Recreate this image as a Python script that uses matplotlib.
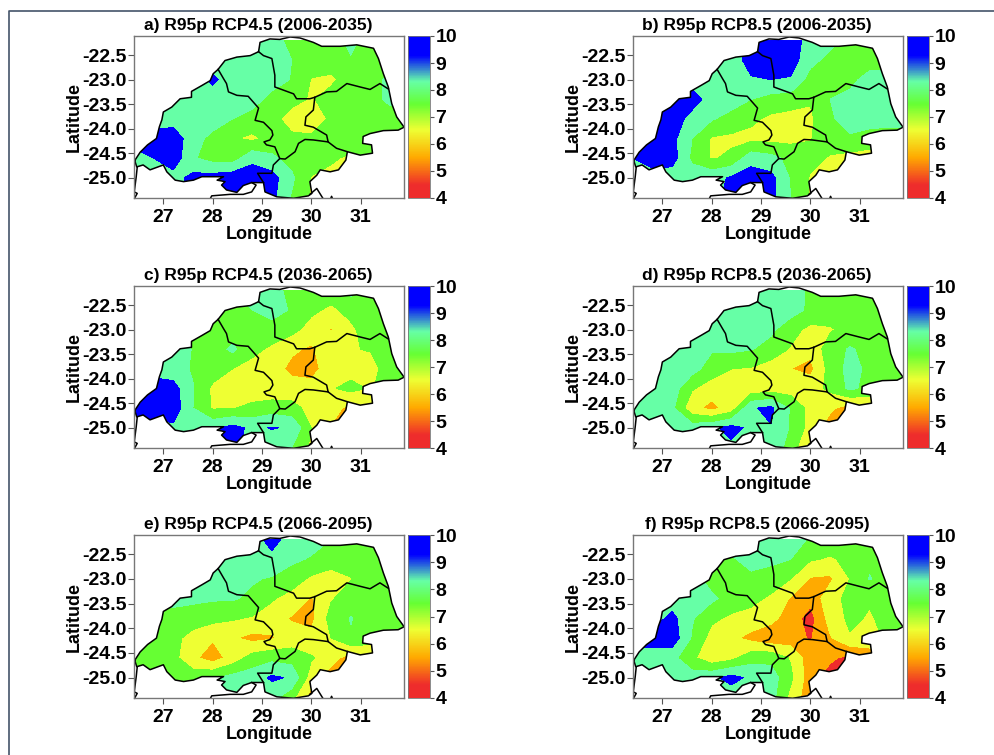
import matplotlib
matplotlib.use('Agg')
import matplotlib.pyplot as plt
import numpy as np
from matplotlib.colors import LinearSegmentedColormap, Normalize
from matplotlib.cm import ScalarMappable
from matplotlib.lines import Line2D
from matplotlib.patches import PathPatch
from matplotlib.path import Path

plt.rcParams['font.family'] = ['Liberation Sans', 'DejaVu Sans']
plt.rcParams['font.weight'] = 'bold'
plt.rcParams['axes.unicode_minus'] = False

titles = ['a) R95p RCP4.5 (2006-2035)', 'b) R95p RCP8.5 (2006-2035)',
          'c) R95p RCP4.5 (2036-2065)', 'd) R95p RCP8.5 (2036-2065)',
          'e) R95p RCP4.5 (2066-2095)', 'f) R95p RCP8.5 (2066-2095)']

grid_lon = [26.4, 26.8, 27.2, 27.6, 28.0, 28.4, 28.8, 29.2, 29.6, 30.0, 30.4, 30.8, 31.2, 31.6, 32.0]
grid_lat = [-22.2, -22.6, -23.0, -23.4, -23.8, -24.2, -24.6, -25.0, -25.4]

r95p_a = [
    [8.5, 8.5, 8.5, 8.5, 8.5, 8.5, 8.5, 8.4, 7.7, 7.5, 7.5, 8.3, 7.5, 7.5, 7.5],
    [8.5, 8.5, 8.5, 8.5, 8.5, 8.5, 8.5, 8.5, 8.0, 7.5, 7.5, 7.9, 7.5, 7.5, 7.5],
    [8.5, 8.5, 8.5, 8.5, 9.2, 8.5, 8.5, 8.4, 7.95, 6.95, 6.8, 7.5, 7.7, 8.2, 8.2],
    [8.5, 8.5, 9.2, 8.5, 8.5, 8.5, 8.4, 7.7, 7.3, 6.9, 7.4, 7.5, 7.7, 8.2, 8.2],
    [8.5, 8.5, 8.5, 8.5, 8.5, 8.0, 7.6, 7.3, 6.6, 6.3, 7.2, 7.5, 7.5, 7.6, 7.6],
    [9.5, 9.5, 9.6, 8.4, 7.7, 7.1, 6.8, 7.3, 7.2, 7.2, 7.6, 7.6, 7.6, 7.6, 7.6],
    [8.5, 9.0, 9.6, 8.1, 7.6, 7.5, 8.7, 8.2, 7.6, 7.5, 7.15, 6.8, 7.5, 7.5, 7.5],
    [8.5, 8.5, 8.6, 9.3, 9.4, 9.6, 9.6, 9.4, 8.2, 6.95, 6.7, 6.8, 7.0, 7.0, 7.0],
    [8.5, 8.5, 8.5, 9.3, 9.4, 9.6, 9.6, 9.3, 7.9, 6.9, 6.9, 6.9, 7.0, 7.0, 7.0],
]
r95p_b = [
    [8.5, 8.5, 8.5, 8.5, 8.5, 8.5, 9.5, 9.6, 9.5, 8.6, 8.3, 7.8, 7.5, 7.5, 7.5],
    [8.5, 8.5, 8.5, 8.5, 8.5, 8.5, 9.4, 9.6, 9.5, 8.3, 7.7, 7.5, 7.5, 7.5, 7.5],
    [8.5, 8.5, 8.5, 8.5, 8.4, 8.5, 8.9, 9.0, 8.9, 7.6, 7.3, 7.7, 8.4, 8.4, 8.4],
    [9.5, 9.5, 9.5, 9.5, 8.5, 8.5, 8.0, 7.6, 7.5, 7.1, 8.0, 8.3, 8.4, 8.4, 8.4],
    [9.5, 9.5, 9.6, 8.6, 8.1, 7.6, 7.2, 6.8, 6.6, 6.8, 7.9, 8.3, 8.4, 8.3, 8.3],
    [9.5, 9.5, 9.3, 8.0, 6.9, 6.8, 6.7, 6.7, 6.7, 6.95, 7.5, 7.9, 7.6, 7.6, 7.6],
    [9.0, 9.5, 9.4, 7.8, 6.9, 7.2, 8.6, 8.3, 7.7, 7.3, 6.9, 6.6, 6.5, 6.5, 6.5],
    [8.5, 8.5, 8.5, 8.5, 8.7, 9.1, 9.5, 9.3, 7.9, 6.9, 6.6, 6.0, 6.5, 6.5, 6.5],
    [8.5, 8.5, 8.5, 8.5, 8.7, 9.3, 9.5, 9.3, 8.0, 6.9, 6.5, 6.5, 6.5, 6.5, 6.5],
]
r95p_c = [
    [8.0, 8.0, 8.0, 8.0, 8.0, 8.0, 8.4, 8.5, 7.6, 7.5, 7.5, 8.3, 7.3, 7.5, 7.5],
    [8.0, 8.0, 8.0, 8.0, 7.6, 7.5, 8.0, 8.4, 7.9, 7.2, 6.8, 7.3, 7.5, 7.5, 7.5],
    [8.0, 8.0, 8.0, 8.0, 7.5, 7.5, 7.5, 7.6, 7.3, 6.6, 5.9, 6.8, 7.5, 7.5, 7.5],
    [8.5, 8.5, 8.5, 7.95, 7.5, 8.2, 7.3, 6.8, 6.2, 5.8, 6.9, 6.95, 7.05, 7.6, 7.6],
    [8.5, 8.5, 8.4, 7.9, 7.5, 7.0, 6.6, 6.5, 5.7, 5.6, 6.6, 6.6, 6.7, 7.4, 7.5],
    [9.6, 9.6, 9.4, 8.05, 6.8, 6.6, 6.5, 6.3, 6.5, 6.4, 6.9, 7.3, 6.9, 7.5, 7.5],
    [9.5, 9.6, 9.6, 8.0, 6.9, 6.95, 7.2, 7.5, 7.3, 6.7, 6.5, 5.6, 6.0, 6.0, 6.0],
    [8.5, 8.5, 8.8, 8.6, 8.8, 9.3, 8.8, 9.05, 8.9, 7.0, 5.9, 6.0, 6.0, 6.0, 6.0],
    [8.5, 8.5, 8.5, 8.5, 8.3, 9.6, 8.3, 8.5, 8.0, 6.8, 6.5, 6.5, 6.5, 6.5, 6.5],
]
r95p_d = [
    [8.5, 8.5, 8.5, 8.5, 8.5, 8.5, 8.5, 8.5, 8.5, 7.8, 7.5, 7.5, 7.5, 7.5, 7.5],
    [8.5, 8.5, 8.5, 8.5, 8.5, 8.5, 8.5, 8.5, 8.4, 7.8, 7.5, 7.5, 7.5, 7.5, 7.5],
    [8.5, 8.5, 8.5, 8.5, 8.5, 8.5, 8.5, 8.2, 7.4, 6.7, 6.9, 7.3, 7.5, 7.5, 7.5],
    [8.5, 8.5, 8.5, 8.5, 8.1, 8.2, 8.05, 7.6, 6.9, 6.3, 7.5, 8.1, 7.7, 7.5, 7.5],
    [8.5, 8.5, 8.5, 8.4, 7.5, 7.0, 6.9, 6.5, 6.0, 5.7, 7.4, 8.3, 7.8, 7.5, 7.5],
    [8.5, 8.5, 8.5, 7.1, 6.5, 6.4, 6.3, 6.5, 6.5, 6.6, 7.2, 8.2, 7.7, 7.5, 7.5],
    [8.5, 8.5, 8.2, 6.3, 5.7, 6.4, 8.9, 9.2, 7.9, 6.6, 6.2, 5.5, 6.0, 6.0, 6.0],
    [8.5, 8.5, 8.5, 8.5, 8.8, 9.3, 8.8, 8.95, 7.9, 6.6, 5.5, 6.0, 6.0, 6.0, 6.0],
    [8.5, 8.5, 8.5, 8.5, 8.5, 8.8, 8.5, 8.5, 7.7, 5.6, 6.0, 6.0, 6.0, 6.0, 6.0],
]
r95p_e = [
    [8.5, 8.5, 8.5, 8.5, 8.5, 8.5, 8.5, 9.4, 8.5, 8.4, 8.0, 7.6, 7.5, 7.5, 7.5],
    [8.5, 8.5, 8.5, 8.5, 8.5, 8.5, 8.5, 8.7, 8.2, 7.9, 7.4, 7.5, 7.5, 7.5, 7.5],
    [8.5, 8.5, 8.5, 8.5, 8.4, 8.5, 8.1, 7.9, 7.5, 6.8, 6.6, 6.95, 7.4, 7.5, 7.5],
    [8.4, 8.4, 8.4, 8.2, 8.1, 8.1, 7.8, 7.1, 6.6, 5.9, 6.9, 7.5, 7.5, 7.5, 7.5],
    [7.6, 7.6, 7.5, 7.5, 7.3, 7.1, 6.9, 6.5, 5.9, 5.7, 7.4, 8.05, 7.5, 7.5, 7.5],
    [7.5, 7.5, 7.3, 6.6, 6.1, 6.1, 5.7, 5.9, 6.5, 6.3, 7.0, 7.9, 7.5, 7.5, 7.5],
    [7.6, 7.5, 7.3, 6.2, 5.5, 6.4, 7.4, 7.7, 7.5, 7.1, 6.4, 5.5, 6.0, 6.0, 6.0],
    [7.5, 7.5, 7.5, 7.6, 7.9, 8.3, 8.5, 9.15, 8.9, 6.4, 5.5, 6.0, 6.0, 6.0, 6.0],
    [7.5, 7.5, 7.5, 7.6, 7.9, 8.2, 8.3, 8.4, 7.3, 5.6, 6.0, 6.0, 6.0, 6.0, 6.0],
]
r95p_f = [
    [8.4, 8.4, 8.4, 8.4, 8.4, 8.4, 8.4, 8.5, 8.4, 7.9, 7.5, 7.8, 7.5, 7.5, 7.5],
    [8.4, 8.4, 8.4, 8.4, 7.6, 7.9, 8.3, 8.2, 8.0, 7.1, 6.9, 7.2, 7.8, 7.5, 7.5],
    [8.4, 8.4, 8.4, 8.4, 7.6, 7.6, 7.8, 7.6, 7.0, 5.9, 5.8, 7.0, 8.05, 7.6, 7.5],
    [8.4, 8.4, 8.4, 8.1, 8.2, 7.6, 7.3, 6.8, 5.9, 5.3, 6.6, 7.3, 7.1, 7.5, 7.5],
    [8.5, 8.5, 9.3, 8.1, 7.2, 6.8, 6.6, 6.3, 5.5, 4.6, 6.4, 7.2, 6.9, 7.3, 7.3],
    [9.5, 9.5, 9.6, 7.9, 6.6, 6.2, 5.7, 5.3, 5.4, 4.9, 5.9, 6.9, 6.5, 7.3, 7.3],
    [8.5, 8.4, 8.3, 7.2, 6.3, 6.7, 7.6, 7.7, 6.9, 5.4, 5.2, 4.7, 5.5, 5.5, 5.5],
    [8.5, 8.5, 8.5, 8.5, 8.8, 9.3, 8.8, 8.5, 7.2, 5.4, 4.5, 5.0, 5.5, 5.5, 5.5],
    [8.5, 8.5, 8.5, 8.5, 8.5, 8.5, 8.5, 8.4, 6.7, 5.3, 5.0, 5.5, 5.5, 5.5, 5.5],
]
panels = [r95p_a, r95p_b, r95p_c, r95p_d, r95p_e, r95p_f]

outer_lon = [26.42, 26.53, 26.68, 26.86, 26.92, 26.97, 27.00, 27.17, 27.34, 27.57, 27.57, 27.78, 27.95, 28.01, 28.11,
             28.25, 28.49, 28.76, 28.93, 28.96, 29.16, 29.36, 29.57, 29.77, 30.04, 30.21, 30.58, 30.92, 31.26, 31.36,
             31.46, 31.56, 31.63, 31.73, 31.88, 31.76, 31.46, 31.19, 31.05, 31.04, 31.22, 31.24, 30.99, 30.73, 30.70,
             30.55, 30.38, 30.18, 30.11, 29.97, 30.01, 29.94, 29.64, 29.30, 29.06, 29.03, 28.79, 28.62, 28.49, 28.28,
             28.18, 28.25, 28.09, 28.22, 27.95, 27.78, 27.61, 27.41, 27.24, 27.07, 27.00, 26.73, 26.59, 26.46, 26.42]
outer_lat = [-24.65, -24.48, -24.33, -24.20, -23.96, -23.82, -23.66, -23.56, -23.39, -23.36, -23.24, -23.12, -23.02, -22.88, -22.79,
             -22.61, -22.54, -22.51, -22.43, -22.24, -22.17, -22.18, -22.13, -22.15, -22.24, -22.32, -22.32, -22.29, -22.36, -22.57,
             -22.88, -23.15, -23.49, -23.76, -23.97, -24.03, -24.04, -24.10, -24.16, -24.30, -24.33, -24.50, -24.54, -24.47, -24.64,
             -24.84, -24.88, -24.84, -24.95, -25.08, -25.32, -25.37, -25.42, -25.39, -25.29, -25.10, -25.10, -25.16, -25.30, -25.25,
             -25.15, -25.08, -25.05, -24.98, -24.98, -24.98, -25.05, -25.08, -25.05, -24.88, -24.74, -24.84, -24.74, -24.78, -24.65]

# province borders and bits of the neighbouring outlines
border_lines = [
    ([28.11, 28.22, 28.28, 28.32, 28.49, 28.72, 28.93, 28.86, 29.03, 29.20, 29.22, 29.16, 29.04, 29.09, 29.26, 29.36, 29.23, 29.20, 28.91, 29.03],
     [-22.79, -22.98, -23.08, -23.25, -23.32, -23.34, -23.58, -23.83, -23.87, -24.04, -24.13, -24.23, -24.27, -24.33, -24.37, -24.61, -24.74, -24.91, -24.91, -25.10]),
    ([28.93, 29.03, 29.20, 29.26, 29.26, 29.64, 29.70, 29.97, 30.07, 30.31, 30.51, 30.72, 30.99, 31.19, 31.39, 31.56],
     [-22.43, -22.51, -22.57, -22.91, -23.15, -23.29, -23.39, -23.39, -23.36, -23.25, -23.24, -23.08, -23.15, -23.20, -23.08, -23.19]),
    ([30.07, 30.04, 29.89, 29.87, 30.04, 30.31, 30.34, 30.51, 30.73],
     [-23.36, -23.62, -23.76, -23.93, -23.97, -24.13, -24.27, -24.40, -24.47]),
    ([30.34, 30.04, 29.87, 29.74, 29.67, 29.47, 29.36],
     [-24.27, -24.23, -24.22, -24.30, -24.47, -24.62, -24.61]),
    ([26.47, 26.45, 26.41, 26.47, 26.41], [-24.79, -24.98, -25.29, -25.32, -25.43]),
    ([27.95, 27.98, 28.35, 28.62, 28.79, 28.88, 28.79], [-25.43, -25.37, -25.34, -25.34, -25.29, -25.15, -25.10]),
    ([29.97, 30.11, 30.24], [-25.34, -25.22, -25.43]),
    ([30.39, 30.41, 30.43], [-25.43, -25.38, -25.43]),
]

band_levels = [4, 5, 6, 7, 8, 9, 10]
band_colors = ['#EE2C2C', '#FFAA00', '#EEFF33', '#66FF33', '#66FFA6', '#0000FF']
bar_colors = [(0.0, '#EE2C2C'), (0.08, '#EE2C2C'), (0.25, '#FFAA00'), (0.42, '#EEFF33'), (0.58, '#66FF33'),
              (0.72, '#66FFA6'), (0.88, '#0000FF'), (1.0, '#0000FF')]
bar_cmap = LinearSegmentedColormap.from_list('r95p', bar_colors, N=256)

W, H = 994, 755
fig = plt.figure(figsize=(W / 100, H / 100), dpi=100)

# frame of the page in the source picture
fig.add_artist(Line2D([9 / W, 9 / W, 1], [0, 1 - 11 / H, 1 - 11 / H], color='#44546A', lw=1.2))

col_left = [134, 633]
row_top = [36, 286, 535]
row_bottom = [198, 448, 698]

for i, values in enumerate(panels):
    left = col_left[i % 2]
    top = row_top[i // 2]
    bottom = row_bottom[i // 2]
    ax = fig.add_axes([left / W, 1 - bottom / H, 270 / W, (bottom - top) / H])

    cs = ax.contourf(grid_lon, grid_lat, np.array(values), levels=band_levels, colors=band_colors)
    clip = PathPatch(Path(np.column_stack([outer_lon, outer_lat])), transform=ax.transData,
                     facecolor='none', edgecolor='none')
    ax.add_patch(clip)
    cs.set_clip_path(clip)

    ax.plot(outer_lon, outer_lat, color='black', lw=1.1)
    for lon, lat in border_lines:
        ax.plot(lon, lat, color='black', lw=1.1)

    ax.set_xlim(26.405, 31.878)
    ax.set_ylim(-25.414, -22.11)
    ax.set_xticks([27, 28, 29, 30, 31])
    ax.set_yticks([-22.5, -23.0, -23.5, -24.0, -24.5, -25.0])
    ax.set_yticklabels(['-22.5', '-23.0', '-23.5', '-24.0', '-24.5', '-25.0'])
    ax.tick_params(labelsize=14, length=4, width=0.8, color='#555555')
    ax.tick_params(axis='x', pad=4)
    ax.tick_params(axis='y', pad=1.5)
    ax.set_xlabel('Longitude', fontsize=13, fontweight='bold', labelpad=0)
    ax.set_ylabel('Latitude', fontsize=13, fontweight='bold', labelpad=-0.5)
    ax.set_title(titles[i], fontsize=12.5, fontweight='bold', x=0.459, pad=4.5)
    for spine in ax.spines.values():
        spine.set_color('#777777')
        spine.set_linewidth(1.0)

    cax = fig.add_axes([(left + 274) / W, 1 - bottom / H, 22 / W, (bottom - top) / H])
    cb = fig.colorbar(ScalarMappable(Normalize(4, 10), bar_cmap), cax=cax, ticks=[4, 5, 6, 7, 8, 9, 10])
    cb.ax.tick_params(labelsize=14, length=3, width=0.8, color='#555555', pad=1)
    cb.outline.set_edgecolor('#777777')
    cb.outline.set_linewidth(0.6)

fig.savefig('out.png', dpi=100)
